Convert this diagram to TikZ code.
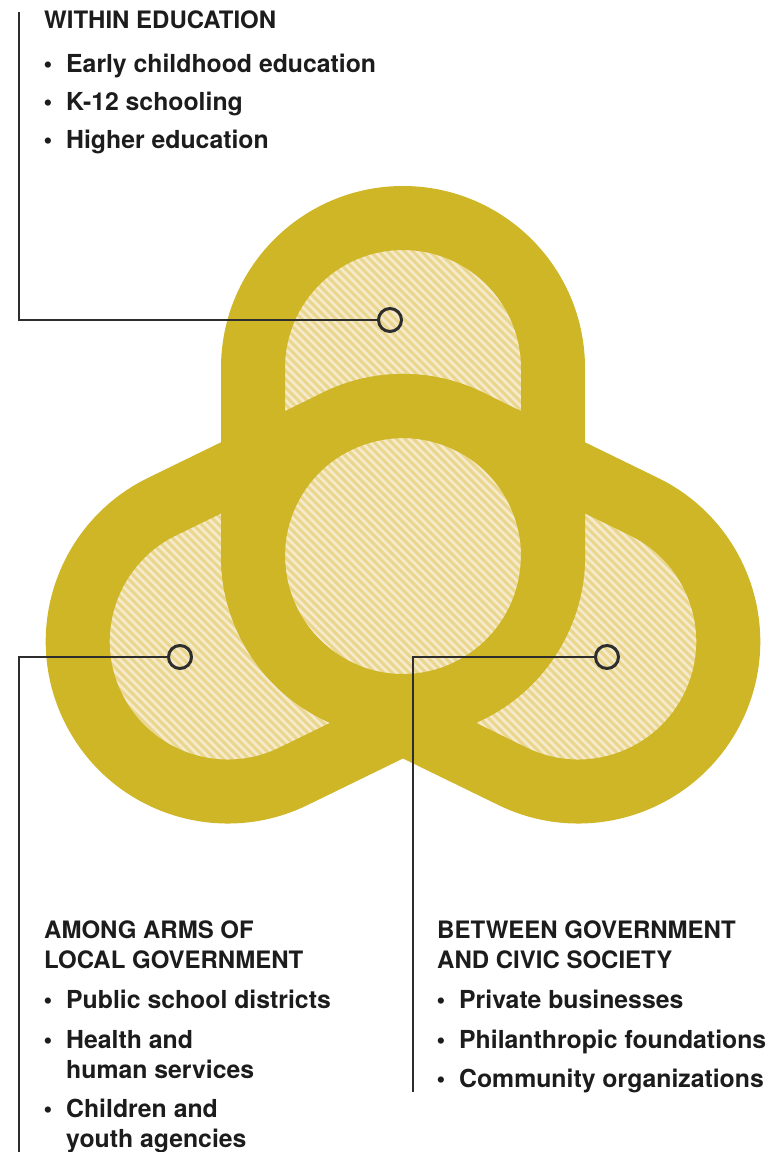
\documentclass[tikz,border=0pt]{standalone}
\usepackage{fontspec}
\setmainfont{TeX Gyre Heros}
\usepackage{tikz}

\definecolor{ringgold}{RGB}{206,182,38}
\definecolor{hatchbg}{RGB}{245,234,204}
\definecolor{stripegold}{RGB}{234,214,140}
\definecolor{inkgray}{RGB}{45,45,45}
\definecolor{inkblack}{RGB}{28,28,28}

\newcommand{\pillpath}[1]{(0,-150) -- (#1,-150) arc[start angle=-90,end angle=90,radius=150] -- (0,150) arc[start angle=90,end angle=270,radius=150] -- cycle}
\newcommand{\dotmark}{\llap{\textbullet\hspace{14pt}}}

\begin{document}
\begin{tikzpicture}[x=1pt,y=1pt,
        ring/.style={draw=ringgold,line width=64pt,line join=round},
        hatchline/.style={draw=stripegold,line width=3pt},
        marker/.style={circle,draw=inkgray,line width=3pt,minimum size=23pt,inner sep=0pt},
        lead/.style={draw=inkgray,line width=2pt},
        head/.style={anchor=base west,inner sep=0pt,text=inkblack,font=\bfseries\fontsize{24}{30}\selectfont},
        item/.style={anchor=base west,inner sep=0pt,text=inkblack,font=\bfseries\fontsize{24.8}{30}\selectfont}]
            \useasboundingbox (0,0) rectangle (782,-1152);

            \foreach \a/\l in {90/188,206/195,334/195}{
                \begin{scope}
                    \clip[shift={(403,-556)},rotate=\a] \pillpath{\l};
                    \fill[hatchbg] (0,0) rectangle (782,-1152);
                    \foreach \k in {-136,...,92}
                        \draw[hatchline] (\k*8.5,0) -- ++(1152,-1152);
                \end{scope}
            }
            \foreach \a/\l in {90/188,206/195,334/195}
                \draw[ring,shift={(403,-556)},rotate=\a] \pillpath{\l};

            \node[marker] (edu) at (390,-320) {};
            \node[marker] (gov) at (180,-657) {};
            \node[marker] (civ) at (607,-657) {};
            \coordinate (edutop) at (19,-12);
            \coordinate (govend) at (19,-1152);
            \coordinate (civend) at (413,-1092);
            \draw[lead] (edu.west) -| (edutop);
            \draw[lead] (gov.west) -| (govend);
            \draw[lead] (civ.west) -| (civend);

            \node[head] (eduhead) at (44,-28) {WITHIN EDUCATION};
            \node[item] (edua) at (66,-72) {\dotmark Early childhood education};
            \node[item] (edub) at (66,-110) {\dotmark K-12 schooling};
            \node[item] (educ) at (66,-148) {\dotmark Higher education};

            \node[head] (govheada) at (44,-938) {AMONG ARMS OF};
            \node[head] (govheadb) at (44,-968) {LOCAL GOVERNMENT};
            \node[item] (gova) at (66,-1008) {\dotmark Public school districts};
            \node[item] (govb) at (66,-1048) {\dotmark Health and};
            \node[item] (govbb) at (66,-1078) {human services};
            \node[item] (govc) at (66,-1117) {\dotmark Children and};
            \node[item] (govcc) at (66,-1147) {youth agencies};

            \node[head] (civheada) at (437,-938) {BETWEEN GOVERNMENT};
            \node[head] (civheadb) at (437,-968) {AND CIVIC SOCIETY};
            \node[item] (civa) at (459,-1008) {\dotmark Private businesses};
            \node[item] (civb) at (459,-1048) {\dotmark Philanthropic foundations};
            \node[item] (civc) at (459,-1087) {\dotmark Community organizations};
        \end{tikzpicture}
\end{document}
